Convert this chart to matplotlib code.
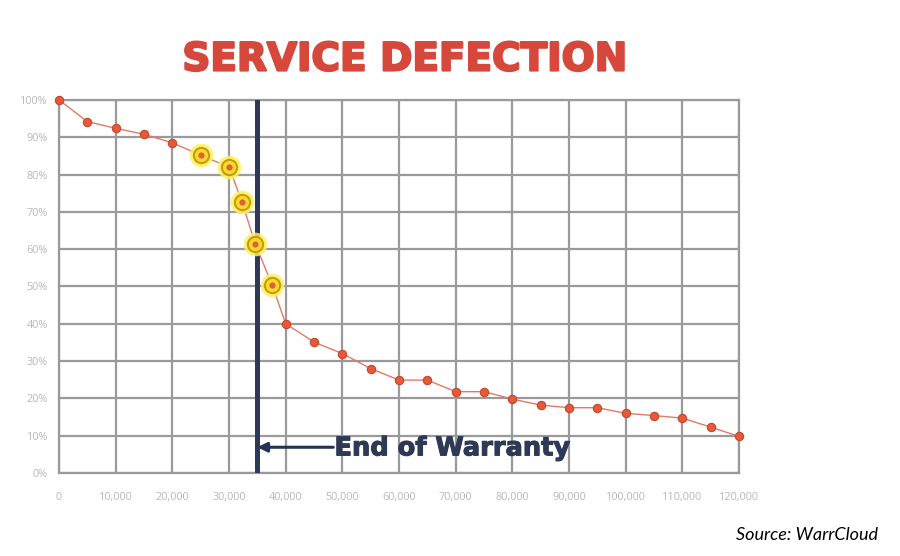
import matplotlib
matplotlib.use("Agg")
import matplotlib.pyplot as plt
import matplotlib.patheffects as pe
import numpy as np

# Data
mileage = [0, 5000, 10000, 15000, 20000, 25000, 30000, 32300, 34600, 37600, 40000,
           45000, 50000, 55000, 60000, 65000, 70000, 75000, 80000, 85000, 90000,
           95000, 100000, 105000, 110000, 115000, 120000]
retention = [100, 94.2, 92.4, 90.8, 88.5, 85.2, 82.0, 72.6, 61.5, 50.4, 40.0,
             35.1, 32.0, 28.0, 24.9, 24.9, 21.8, 21.8, 19.8, 18.2, 17.5,
             17.5, 16.0, 15.4, 14.7, 12.3, 9.8]
highlight_idx = [5, 6, 7, 8, 9]
warranty_end = 35000
x_ticks = list(range(0, 120001, 10000))
x_labels = ["0", "10,000", "20,000", "30,000", "40,000", "50,000", "60,000",
            "70,000", "80,000", "90,000", "100,000", "110,000", "120,000"]
y_ticks = list(range(0, 101, 10))
y_labels = [f"{v}%" for v in y_ticks]

fig = plt.figure(figsize=(9, 5.56), dpi=100)
ax = fig.add_axes([0.0656, 0.1493, 0.7556, 0.6709])
ax.set_xlim(0, 120000)
ax.set_ylim(0, 100)

grid_c = "#9a9a9a"
ax.set_xticks(x_ticks)
ax.set_xticklabels(x_labels)
ax.set_yticks(y_ticks)
ax.set_yticklabels(y_labels)
ax.grid(True, color=grid_c, linewidth=1.6, zorder=0)
ax.set_axisbelow(True)
for s in ax.spines.values():
    s.set_color(grid_c)
    s.set_linewidth(1.6)
ax.tick_params(axis="both", length=0, colors="#b8b8b8", labelsize=7.8)
ax.tick_params(axis="x", pad=14)
ax.tick_params(axis="y", pad=8)
for lbl in ax.get_xticklabels() + ax.get_yticklabels():
    lbl.set_fontfamily("Open Sans")

# warranty line
ax.axvline(warranty_end, color="#2e3a55", linewidth=3.6, zorder=3)

# data line
ax.plot(mileage, retention, color="#e07a66", linewidth=1.0, zorder=4, clip_on=False)
ax.plot(mileage, retention, linestyle="none", marker="o", markersize=6,
        markerfacecolor="#e45a3a", markeredgecolor="#c8452a", markeredgewidth=0.8,
        zorder=5, clip_on=False)

hx = [mileage[i] for i in highlight_idx]
hy = [retention[i] for i in highlight_idx]
ax.plot(hx, hy, linestyle="none", marker="o", markersize=17,
        markerfacecolor="#fff060", markeredgecolor="none", alpha=0.85, zorder=6)
ax.plot(hx, hy, linestyle="none", marker="o", markersize=11,
        markerfacecolor="#f7dc2a", markeredgecolor="#c99a12", markeredgewidth=1.5, zorder=7)
ax.plot(hx, hy, linestyle="none", marker="o", markersize=4.5,
        markerfacecolor="#e0603e", markeredgecolor="none", zorder=8)

# annotation
ax.annotate("", xy=(warranty_end, 6.9), xytext=(48400, 6.9),
            arrowprops=dict(arrowstyle="-|>", color="#233258", lw=2.2,
                            mutation_scale=14, shrinkA=0, shrinkB=0),
            zorder=9)
ax.text(48600, 6.6, "End of Warranty", fontsize=18.5, fontweight="bold",
        color="#2e3a55", family="DejaVu Sans", va="center", ha="left", zorder=9,
        path_effects=[pe.withStroke(linewidth=0.8, foreground="#2e3a55")])

fig.text(0.45, 0.893, "SERVICE DEFECTION", fontsize=28, fontweight="bold",
         color="#d6483b", family="DejaVu Sans", ha="center", va="center",
         path_effects=[pe.withStroke(linewidth=1.6, foreground="#d6483b")])
fig.text(0.975, 0.038, "Source: WarrCloud", fontsize=13, style="italic",
         color="black", family="Lato", ha="right", va="center")

fig.savefig("out.png", dpi=100)
